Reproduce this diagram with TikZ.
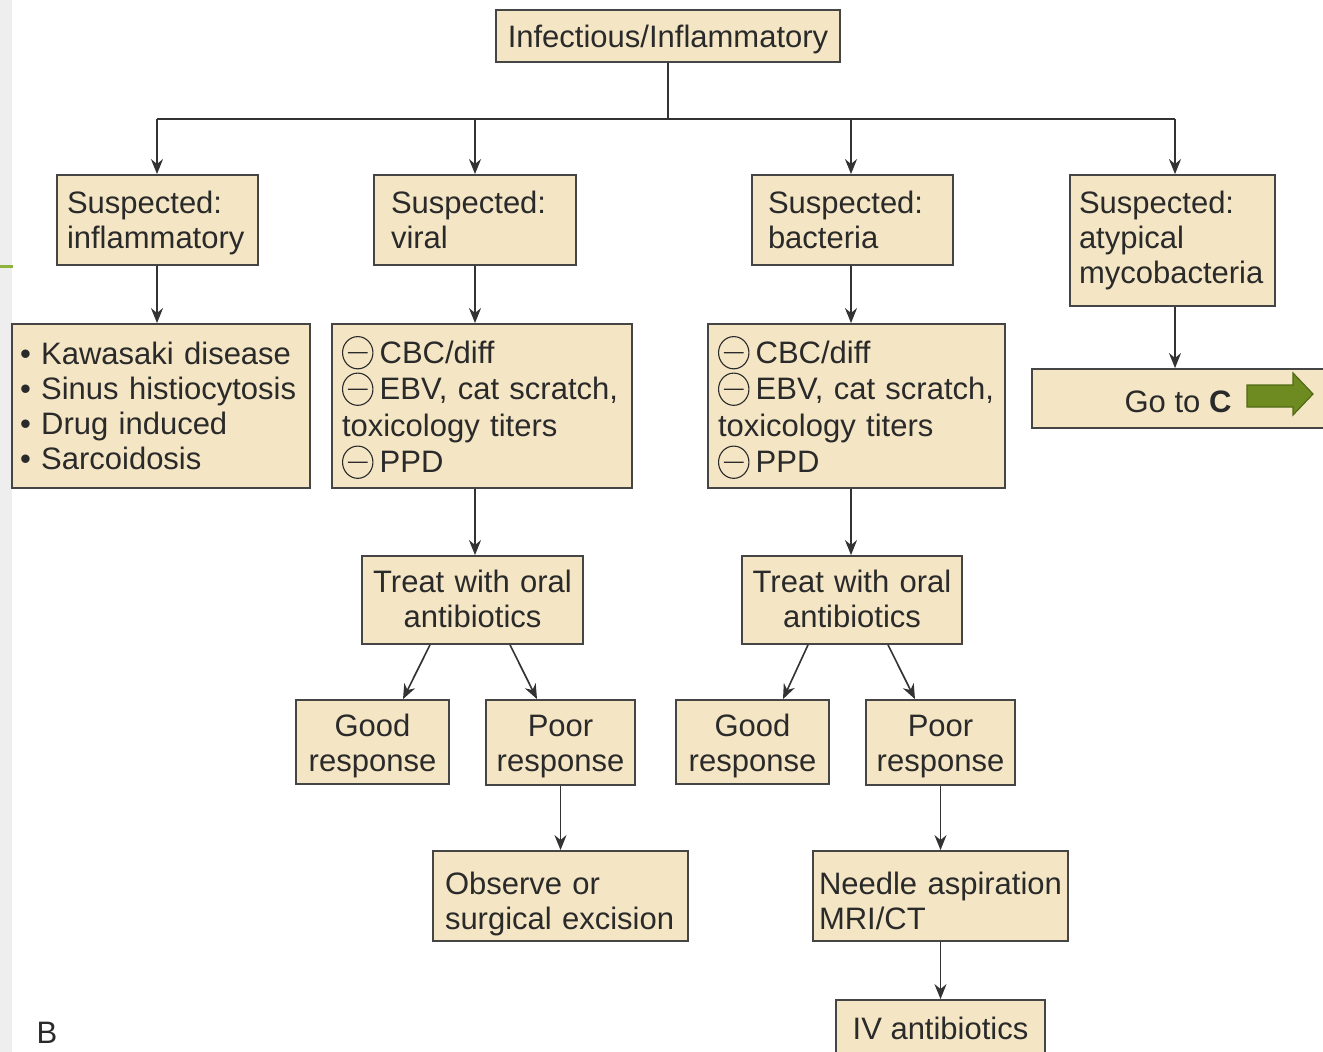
\documentclass[tikz,border=0pt]{standalone}
\usepackage{fontspec}
\setmainfont{Liberation Sans}
\usetikzlibrary{arrows.meta,calc}
\definecolor{boxfill}{HTML}{F4E6C4}
\definecolor{boxline}{HTML}{454545}
\definecolor{ink}{HTML}{2A2A2A}
\definecolor{lineink}{HTML}{333333}
\definecolor{arrgreen}{HTML}{6E8B22}
\definecolor{arrgreendark}{HTML}{506A14}
\definecolor{stripgray}{HTML}{EEEEEE}
\definecolor{slidegreen}{HTML}{8CB43C}
\newcommand{\cmin}{\tikz[baseline={(0,-0.34em)}]\draw[ink,line width=1.1pt] (0,0) ellipse (0.49em and 0.52em) (-0.32em,0) -- (0.32em,0);\hspace{0.2em}}
\begin{document}
\begin{tikzpicture}[x=1pt,y=-1pt,
  box/.style={draw=boxline,fill=boxfill,line width=1.8pt,text=ink,inner ysep=0pt,
              font=\fontsize{31}{35}\selectfont,text height=23pt},
  cbox/.style={box,align=center,inner xsep=0pt},
  lbox/.style={box,align=left},
  conn/.style={draw=lineink,line width=1.6pt},
  arr/.style={conn,-{Stealth[length=15pt,width=12pt]}}]
\fill[white] (0,0) rectangle (1323,1052);
\useasboundingbox (0,0) rectangle (1323,1052);
% slide artefacts at the left edge
\fill[stripgray] (0,0) rectangle (12,1052);
\draw[slidegreen,line width=3pt] (0,266) -- (13,266);

% nodes
\node[cbox,minimum width=344pt,minimum height=52pt,text depth=1pt] (top) at (668,36) {Infectious/Inflammatory};

\node[lbox,text width=181pt,inner xsep=10pt,minimum height=90pt,text depth=36pt] (s1) at (157.5,220) {Suspected:\\inflammatory};
\node[lbox,text width=168pt,inner xsep=17pt,minimum height=90pt,text depth=36pt] (s2) at (475,220) {Suspected:\\viral};
\node[lbox,text width=169pt,inner xsep=16pt,minimum height=90pt,text depth=36pt] (s3) at (852.5,220) {Suspected:\\bacteria};
\node[lbox,text width=187pt,inner xsep=9pt,minimum height=131pt,text depth=77pt] (s4) at (1172.5,240.5) {Suspected:\\atypical\\\mbox{mycobacteria}};

\node[lbox,text width=282pt,inner xsep=8pt,minimum height=164pt,text depth=107pt] (list) at (161,406)
  {• Kawasaki disease\\• Sinus histiocytosis\\• Drug induced\\• Sarcoidosis};
\node[lbox,text width=280pt,inner xsep=10pt,minimum height=164pt,text depth=108.5pt,
      font=\fontsize{31}{36.5}\selectfont] (v) at (482,406)
  {\cmin CBC/diff\\\mbox{\cmin EBV, cat scratch,}\\toxicology titers\\\cmin PPD};
\node[lbox,text width=277pt,inner xsep=10pt,minimum height=164pt,text depth=108.5pt,
      font=\fontsize{31}{36.5}\selectfont] (b) at (856.5,406)
  {\cmin CBC/diff\\\mbox{\cmin EBV, cat scratch,}\\toxicology titers\\\cmin PPD};
\node[cbox,minimum width=298pt,minimum height=59pt,text height=27pt,text depth=0pt] (goc) at (1181,398.5) {Go to \textbf{C}\hspace{6pt}};

\node[cbox,text width=221pt,minimum height=88pt,text depth=39pt] (t1) at (472.5,600) {Treat with oral\\antibiotics};
\node[cbox,text width=220pt,minimum height=88pt,text depth=39pt] (t2) at (852,600) {Treat with oral\\antibiotics};

\node[cbox,text width=153pt,minimum height=84pt,text depth=35pt] (g1) at (372.5,742) {Good\\response};
\node[cbox,text width=149pt,minimum height=85pt,text depth=35pt] (p1) at (560.5,742.5) {Poor\\response};
\node[cbox,text width=153pt,minimum height=84pt,text depth=35pt] (g2) at (752.5,742) {Good\\response};
\node[cbox,text width=149pt,minimum height=85pt,text depth=35pt] (p2) at (940.5,742.5) {Poor\\response};

\node[lbox,text width=231pt,inner xsep=12pt,minimum height=90pt,text depth=27pt] (obs) at (560.5,896) {Observe or\\\mbox{surgical excision}};
\node[lbox,text width=243pt,inner xsep=6pt,minimum height=90pt,text depth=27pt] (nee) at (940.5,896) {\mbox{Needle aspiration}\\MRI/CT};
\node[cbox,minimum width=209pt,minimum height=62pt,text depth=7pt] (iv) at (940.5,1031) {IV antibiotics};

\node[text=ink,font=\fontsize{31}{35}\selectfont,inner sep=0pt] (lblB) at (47,1033) {B};

% green arrow inside "Go to C"
\draw[fill=arrgreen,draw=arrgreendark,line width=1.2pt]
  (1247,385) -- (1293,385) -- (1293,373) -- (1313,394) -- (1293,415) -- (1293,407) -- (1247,407) -- cycle;

% connectors
\coordinate (bus) at (668,119);
\coordinate (j1) at (157,119);
\coordinate (j2) at (475,119);
\coordinate (j3) at (851,119);
\coordinate (j4) at (1175,119);
\draw[conn] (top.south) -- (bus);
\draw[conn] (j1) -- (j4);
\draw[arr] (j1) -- (j1 |- s1.north);
\draw[arr] (j2) -- (j2 |- s2.north);
\draw[arr] (j3) -- (j3 |- s3.north);
\draw[arr] (j4) -- (j4 |- s4.north);
\draw[arr] (j1 |- s1.south) -- (j1 |- list.north);
\draw[arr] (j2 |- s2.south) -- (j2 |- v.north);
\draw[arr] (j3 |- s3.south) -- (j3 |- b.north);
\draw[arr] (j4 |- s4.south) -- (j4 |- goc.north);
\draw[arr] (j2 |- v.south) -- (j2 |- t1.north);
\draw[arr] (j3 |- b.south) -- (j3 |- t2.north);
\draw[arr] ([xshift=-42.5pt]t1.south) -- ([xshift=30.5pt]g1.north);
\draw[arr] ([xshift=37.5pt]t1.south) -- ([xshift=-23.5pt]p1.north);
\draw[arr] ([xshift=-44pt]t2.south) -- ([xshift=30.5pt]g2.north);
\draw[arr] ([xshift=36pt]t2.south) -- ([xshift=-25.5pt]p2.north);
\draw[arr] (p1.south) -- (obs.north);
\draw[arr] (p2.south) -- (nee.north);
\draw[arr] (nee.south) -- (iv.north);
\end{tikzpicture}
\end{document}
